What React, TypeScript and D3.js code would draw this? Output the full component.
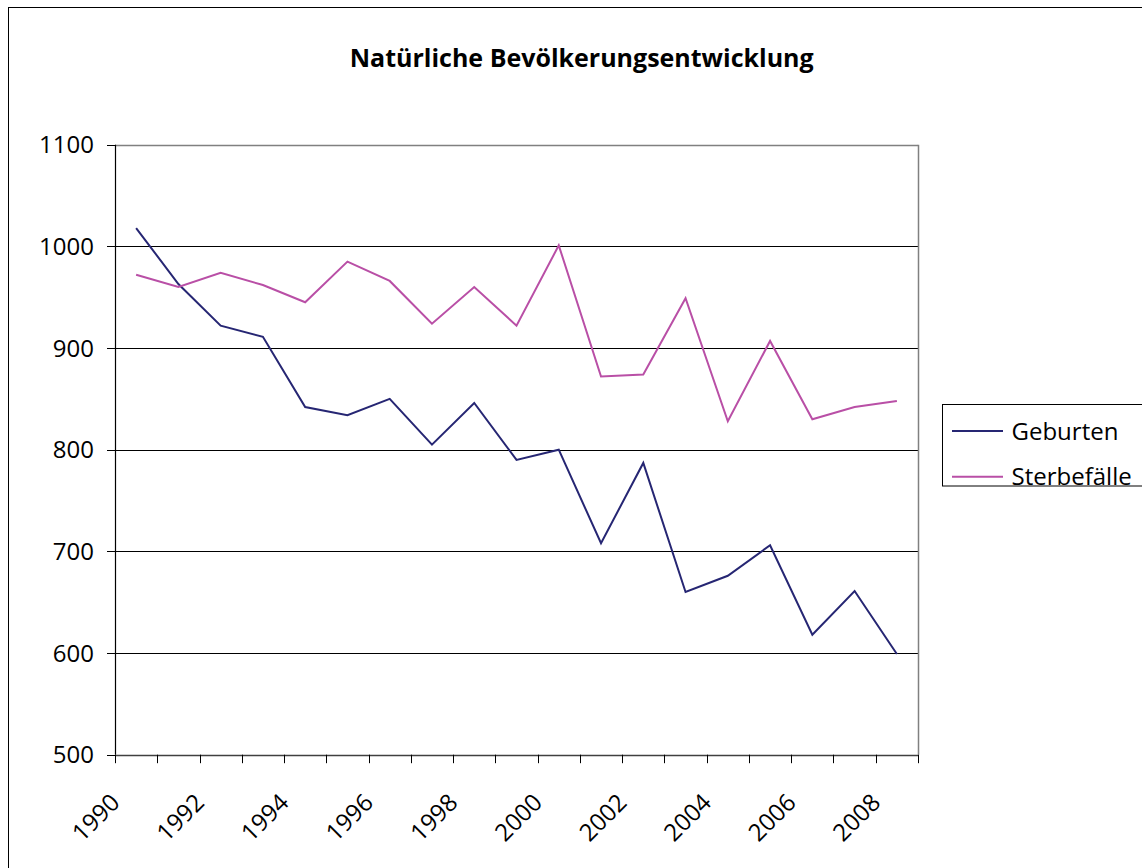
import React from "react";
import * as d3 from "d3";

const years = ["1990","1991","1992","1993","1994","1995","1996","1997","1998","1999","2000","2001","2002","2003","2004","2005","2006","2007","2008"];
const geburten = [1018, 963, 922, 911, 842, 834, 850, 805, 846, 790, 800, 708, 787, 660, 676, 706, 618, 661, 599];
const sterbefaelle = [972, 960, 974, 962, 945, 985, 966, 924, 960, 922, 1001, 872, 874, 949, 828, 907, 830, 842, 848];
const yTicks = [500, 600, 700, 800, 900, 1000, 1100];
const xTickLabels = ["1990","1992","1994","1996","1998","2000","2002","2004","2006","2008"];
const seriesNames = ["Geburten", "Sterbefälle"];
const seriesColors = ["#262673", "#b94fa6"];
const title = "Natürliche Bevölkerungsentwicklung";

const W = 1142, H = 868;
const left = 115, right = 918, top = 144.7, bottom = 754.7;
const font = "'Open Sans', 'DejaVu Sans', sans-serif";

export default function App() {
  const x = d3.scaleBand<string>().domain(years).range([left, right]).padding(0);
  const y = d3.scaleLinear().domain([500, 1100]).range([bottom, top]);
  const cx = (yr: string) => (x(yr) as number) + x.bandwidth() / 2;
  const line = d3.line<number>().x((_, i) => cx(years[i])).y((d) => y(d));
  const series = [geburten, sterbefaelle];
  const boundaries = years.map((yr) => x(yr) as number).concat([right]);

  return (
    <>
      <style>{`body{margin:0;overflow:hidden;}`}</style>
      <svg width={W} height={H} style={{ display: "block", background: "#fff" }} fontFamily={font}>
        <rect x={8.5} y={7.5} width={W + 10} height={H + 10} fill="#fff" stroke="#000" strokeWidth={1} />
        <text x={581.7} y={66.5} textAnchor="middle" fontSize={25} fontWeight="bold" fill="#000">{title}</text>

        {yTicks.filter((t) => t > 500 && t < 1100).map((t) => (
          <line key={"g" + t} x1={left} x2={right} y1={Math.round(y(t)) + 0.5} y2={Math.round(y(t)) + 0.5} stroke="#000" strokeWidth={1} />
        ))}
        <line x1={left} x2={right} y1={Math.round(top) + 0.5} y2={Math.round(top) + 0.5} stroke="#808080" strokeWidth={1.5} />
        <line x1={right + 0.5} x2={right + 0.5} y1={top} y2={bottom} stroke="#808080" strokeWidth={1.5} />

        <line x1={left + 0.5} x2={left + 0.5} y1={top} y2={bottom} stroke="#000" strokeWidth={1.2} />
        {yTicks.map((t) => (
          <g key={"y" + t}>
            <line x1={left - 8} x2={left} y1={Math.round(y(t)) + 0.5} y2={Math.round(y(t)) + 0.5} stroke="#000" strokeWidth={1} />
            <text x={94} y={y(t) + 8.5} textAnchor="end" fontSize={24} fill="#000">{t}</text>
          </g>
        ))}

        <line x1={left} x2={right} y1={Math.round(bottom) + 0.5} y2={Math.round(bottom) + 0.5} stroke="#404040" strokeWidth={1.5} />
        {boundaries.map((b, i) => (
          <line key={"xt" + i} x1={Math.round(b) + 0.5} x2={Math.round(b) + 0.5} y1={bottom} y2={bottom + 8.5} stroke="#000" strokeWidth={1} />
        ))}
        {xTickLabels.map((lab) => {
          const px = cx(lab) - 15;
          const py = 804;
          return (
            <text key={"xl" + lab} x={px} y={py} textAnchor="end" fontSize={24} fill="#000" transform={`rotate(-45 ${px} ${py})`}>{lab}</text>
          );
        })}

        {series.map((s, i) => (
          <path key={"s" + i} d={line(s) as string} fill="none" stroke={seriesColors[i]} strokeWidth={2} strokeLinejoin="miter" />
        ))}

        <rect x={942.5} y={404.5} width={220} height={81.5} fill="#fff" stroke="#000" strokeWidth={1} />
        {seriesNames.map((n, i) => {
          const ly = 431 + i * 45.7;
          return (
            <g key={"l" + n}>
              <line x1={952} x2={1003} y1={ly} y2={ly} stroke={seriesColors[i]} strokeWidth={2} />
              <text x={1011.5} y={ly + 8.5} fontSize={24} fill="#000">{n}</text>
            </g>
          );
        })}
      </svg>
    </>
  );
}
